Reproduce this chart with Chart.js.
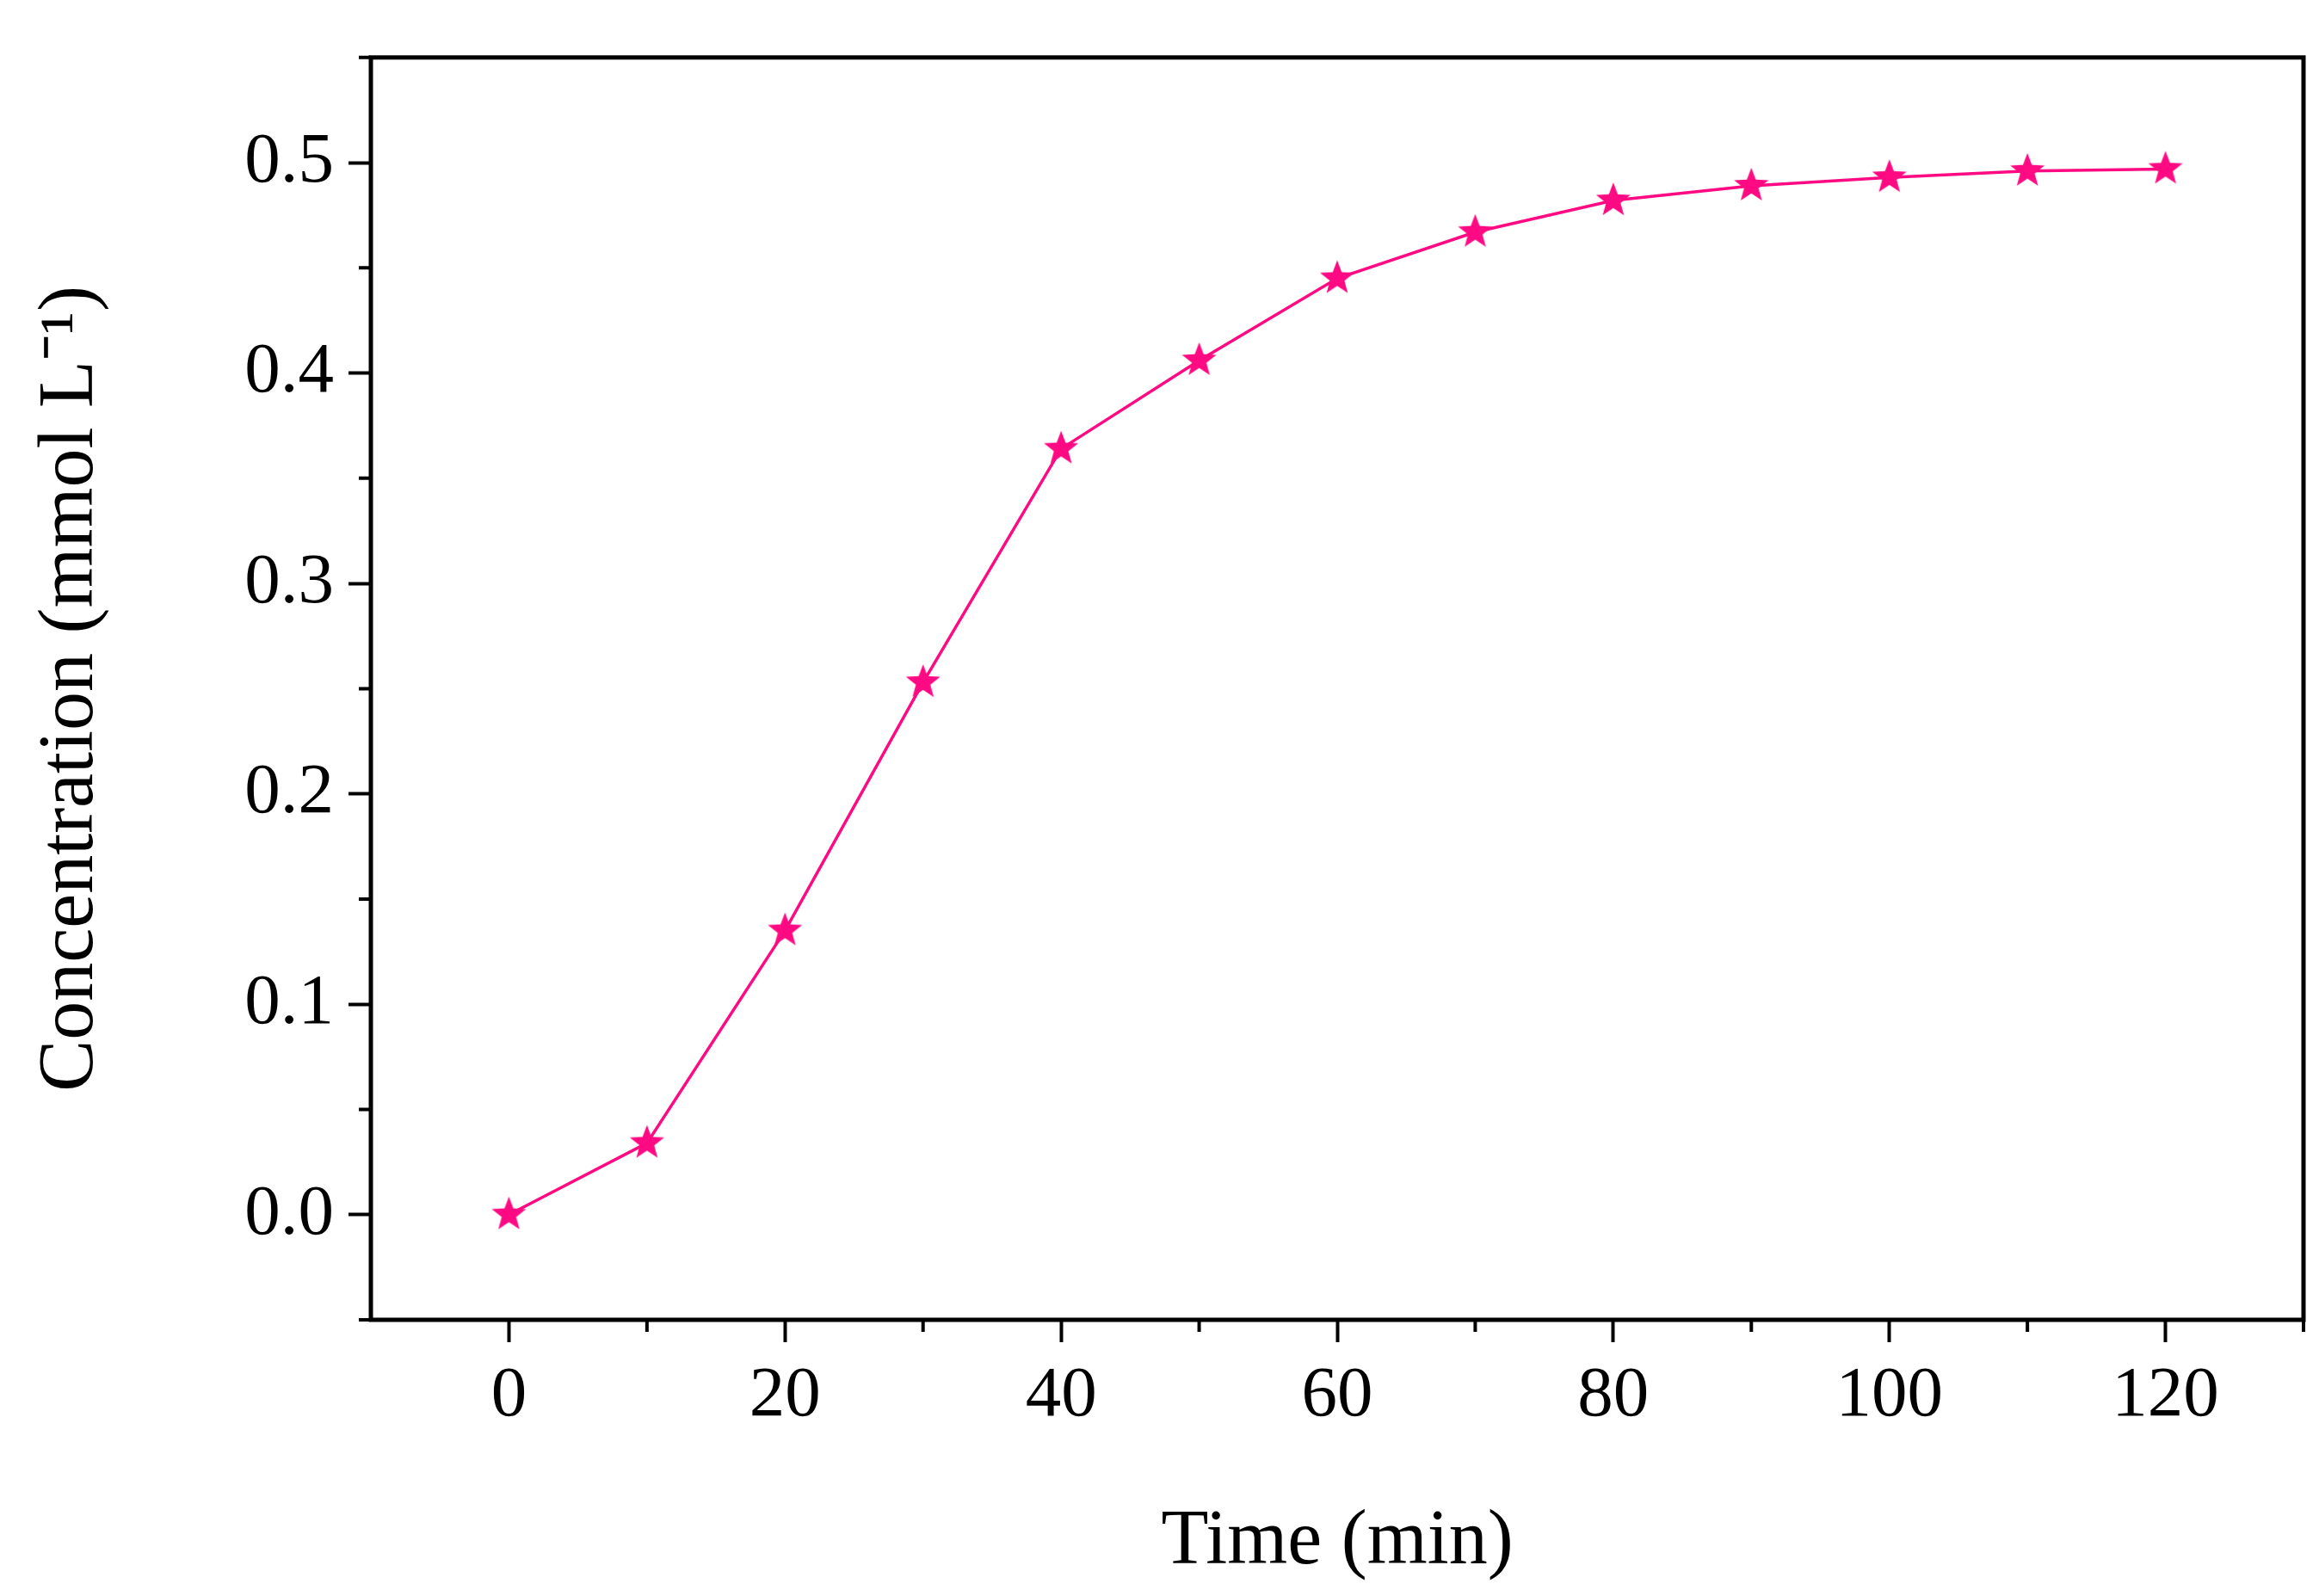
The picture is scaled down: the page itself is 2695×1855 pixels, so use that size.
<!DOCTYPE html>
<html>
<head>
<meta charset="UTF-8" />
<script src="https://cdn.jsdelivr.net/npm/chart.js"></script>
<style>
  body { margin: 0; background: #fff; }
</style>
</head>
<body>
<canvas id="myChart" width="2695" height="1855"></canvas>
<script>
  // dados
  var tempos = [0, 10, 20, 30, 40, 50, 60, 70, 80, 90, 100, 110, 120];
  var concentracao = [0, 0.034, 0.135, 0.253, 0.364, 0.406, 0.445, 0.467, 0.482, 0.489, 0.493, 0.496, 0.497];
  var xTicks = [0, 20, 40, 60, 80, 100, 120];
  var yTicks = [0.0, 0.1, 0.2, 0.3, 0.4, 0.5];

  var cor = "#ff0a82";

  // estrela preenchida para os pontos
  function fazerEstrela(r) {
    var c = document.createElement("canvas");
    c.width = c.height = r * 2 + 4;
    var g = c.getContext("2d");
    g.translate(r + 2, r + 2);
    g.beginPath();
    for (var i = 0; i < 10; i++) {
      var rr = i % 2 == 0 ? r : r * 0.42;
      var a = -Math.PI / 2 + i * Math.PI / 5;
      g.lineTo(Math.cos(a) * rr, Math.sin(a) * rr);
    }
    g.closePath();
    g.fillStyle = cor;
    g.fill();
    return c;
  }
  var estrela = fazerEstrela(21);

  var caixa = {
    id: "caixa",
    afterDraw: function (chart) {
      var ctx = chart.ctx, a = chart.chartArea;
      var xs = chart.scales.x, ys = chart.scales.y;
      ctx.save();
      ctx.strokeStyle = "#000";
      ctx.lineWidth = 5;
      ctx.strokeRect(a.left, a.top, a.right - a.left, a.bottom - a.top);
      ctx.lineWidth = 4;
      ctx.beginPath();
      // ticks menores
      for (var v = 10; v <= 130; v += 20) {
        var px = xs.getPixelForValue(v);
        ctx.moveTo(px, a.bottom); ctx.lineTo(px, a.bottom + 14);
      }
      for (var w = -0.05; w <= 0.55; w += 0.1) {
        var py = ys.getPixelForValue(w);
        ctx.moveTo(a.left, py); ctx.lineTo(a.left - 14, py);
      }
      ctx.stroke();
      ctx.restore();
    }
  };

  var fonteTick = { family: "'Liberation Serif', 'Times New Roman', serif", size: 83 };
  var fonteTitulo = { family: "'Liberation Serif', 'Times New Roman', serif", size: 90 };

  new Chart(document.getElementById("myChart"), {
    type: "line",
    data: {
      datasets: [{
        data: tempos.map(function (t, i) { return { x: t, y: concentracao[i] }; }),
        borderColor: cor,
        borderWidth: 3.5,
        pointStyle: estrela,
        tension: 0,
      }],
    },
    options: {
      responsive: false,
      animation: false,
      devicePixelRatio: 1,
      layout: { padding: { top: 21, right: 18, left: 0, bottom: 0 } },
      plugins: { legend: { display: false }, tooltip: { enabled: false } },
      scales: {
        x: {
          type: "linear", min: -10, max: 130,
          afterBuildTicks: function (s) { s.ticks = xTicks.map(function (v) { return { value: v }; }); },
          afterFit: function (s) { s.height = 321; },
          grid: { drawOnChartArea: false, tickLength: 26, tickWidth: 4, color: "#000" },
          border: { display: false },
          ticks: { font: fonteTick, color: "#000", padding: 13, maxRotation: 0 },
          title: { display: true, text: "Time (min)", font: fonteTitulo, color: "#000", padding: { top: 0, bottom: 8 } },
        },
        y: {
          min: -0.05, max: 0.55,
          afterBuildTicks: function (s) { s.ticks = yTicks.map(function (v) { return { value: v }; }); },
          afterFit: function (s) { s.width = 431; },
          grid: { drawOnChartArea: false, tickLength: 26, tickWidth: 4, color: "#000" },
          border: { display: false },
          ticks: { font: fonteTick, color: "#000", padding: 17, callback: function (v) { return v.toFixed(1); } },
          title: { display: true, text: "Concentration (mmol L\u207B\u00B9)", font: fonteTitulo, color: "#000", padding: { top: 29, bottom: 0 } },
        },
      },
    },
    plugins: [caixa],
  });
</script>
</body>
</html>
